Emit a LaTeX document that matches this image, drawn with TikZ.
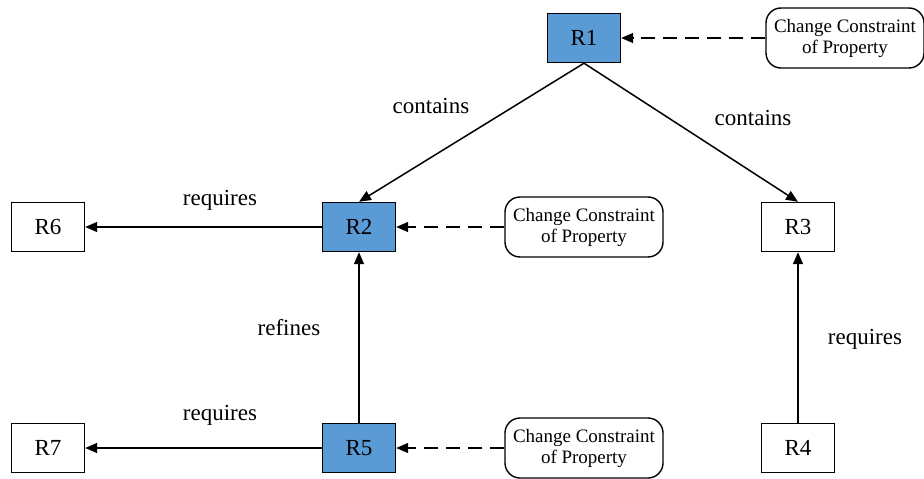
\documentclass[tikz,border=0pt]{standalone}
\usepackage{fontspec}
\setmainfont{Liberation Serif}
\usetikzlibrary{arrows.meta}
\definecolor{boxblue}{HTML}{5B9BD5}
\begin{document}
\begin{tikzpicture}[x=1pt,y=-1pt,
  rbox/.style={draw, line width=1.4pt, minimum width=73pt, minimum height=49pt, inner sep=0pt, font=\fontsize{23}{26}\selectfont},
  bluebox/.style={rbox, fill=boxblue},
  ccbox/.style={draw, line width=1.4pt, rounded corners=15pt, minimum width=158pt, minimum height=60pt, inner sep=0pt, align=center, font=\fontsize{19}{21}\selectfont},
  lbl/.style={font=\fontsize{23}{26}\selectfont},
  arr/.style={line width=1.5pt, -{Triangle[length=12pt,width=10pt]}},
  darr/.style={arr, dash pattern=on 14pt off 8pt}
]
\useasboundingbox (0,0) rectangle (924,479);
\node[bluebox] (R1) at (584,38) {R1};
\node[bluebox] (R2) at (359,227) {R2};
\node[bluebox] (R5) at (359,448) {R5};
\node[rbox] (R6) at (48,227) {R6};
\node[rbox] (R7) at (48,448) {R7};
\node[rbox] (R3) at (798,227) {R3};
\node[rbox] (R4) at (798,448) {R4};
\node[ccbox] (C1) at (845,38) {Change Constraint\\of Property};
\node[ccbox] (C2) at (584,227) {Change Constraint\\of Property};
\node[ccbox] (C5) at (584,448) {Change Constraint\\of Property};
\draw[arr] (R1.south) -- (R2.north);
\draw[arr] (R1.south) -- (R3.north);
\draw[arr] (R2.west) -- (R6.east);
\draw[arr] (R5.north) -- (R2.south);
\draw[arr] (R5.west) -- (R7.east);
\draw[arr] (R4.north) -- (R3.south);
\draw[darr] (C1.west) -- (R1.east);
\draw[darr] (C2.west) -- (R2.east);
\draw[darr] (C5.west) -- (R5.east);
\node[lbl] (l1) at (431,106) {contains};
\node[lbl] (l2) at (753,118) {contains};
\node[lbl] (l3) at (220,200) {requires};
\node[lbl] (l4) at (289,328) {refines};
\node[lbl] (l5) at (220,415) {requires};
\node[lbl] (l6) at (865,339) {requires};
\end{tikzpicture}
\end{document}
